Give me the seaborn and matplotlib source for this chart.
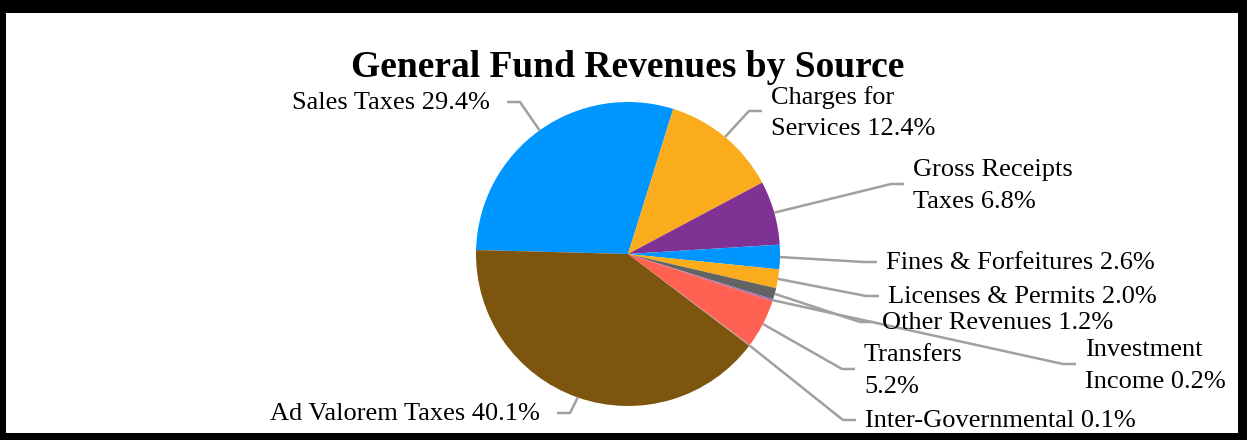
import matplotlib
matplotlib.use("Agg")
import matplotlib.pyplot as plt
from matplotlib.patches import Rectangle
import numpy as np
import seaborn as sns

# Revenue sources, in clockwise order starting from the left of the pie
categories = [
    "Sales Taxes", "Charges for Services", "Gross Receipts Taxes",
    "Fines & Forfeitures", "Licenses & Permits", "Other Revenues",
    "Investment Income", "Transfers", "Inter-Governmental", "Ad Valorem Taxes",
]
shares = [29.4, 12.4, 6.8, 2.6, 2.0, 1.2, 0.2, 5.2, 0.1, 40.1]
# Label wording with the line breaks used on the chart
label_names = [
    "Sales Taxes", "Charges for\nServices", "Gross Receipts\nTaxes",
    "Fines & Forfeitures", "Licenses & Permits", "Other Revenues",
    "Investment\nIncome", "Transfers\n", "Inter-Governmental", "Ad Valorem Taxes",
]
colors = ["#0096FF", "#FAAC1C", "#7F3294", "#0096FF", "#FAAC1C",
          "#636363", "#9B6FB0", "#FF6152", "#A0A0A0", "#7D550E"]

# Label placement in pixel units (x, y from top), side of the leader line
label_pos = [
    (490, 103, "right"),
    (771, 113, "left"),
    (913, 186, "left"),
    (886, 263, "left"),
    (888, 297, "left"),
    (882, 323, "left"),
    (1085, 366, "left"),
    (864, 371, "left"),
    (865, 421, "left"),
    (540, 414, "right"),
]

sns.set_theme(style="white")
plt.rcParams["font.family"] = ["Liberation Serif", "DejaVu Serif"]

W, H = 1247, 440
fig = plt.figure(figsize=(W / 100, H / 100), dpi=100, facecolor="black")
# white chart area inside the black frame
fig.add_artist(Rectangle((6 / W, 7 / H), (1238 - 6) / W, (433 - 13) / H,
                         transform=fig.transFigure, facecolor="white",
                         edgecolor="none", zorder=0))
ax = fig.add_axes([0, 0, 1, 1])
ax.patch.set_alpha(0)

cx, cy, r = 628, H - 254, 152
wedges, _ = ax.pie(shares, colors=colors, startangle=178.5, counterclock=False,
                   center=(cx, cy), radius=r,
                   wedgeprops=dict(linewidth=0))

ax.set_xlim(0, W)
ax.set_ylim(0, H)
ax.set_aspect("equal")
ax.set_axis_off()

line_color = "#A0A0A0"
for w, name, pct, (tx, ty, side) in zip(wedges, label_names, shares, label_pos):
    mid = np.deg2rad((w.theta1 + w.theta2) / 2)
    ax_x = cx + r * np.cos(mid)
    ax_y = cy + r * np.sin(mid)
    y = H - ty
    if side == "left":
        end = tx - 9
        elbow = end - 13
        ha = "left"
    else:
        end = tx + 17
        elbow = end + 13
        ha = "right"
    ly = y + 2 if "\n" in name else y + 1
    ax.plot([ax_x, elbow, end], [ax_y, ly, ly], color=line_color, lw=1.8,
            solid_capstyle="butt", zorder=1)
    if name.endswith("\n"):
        text = name + f"{pct:.1f}%"
    elif "\n" in name:
        text = name + f" {pct:.1f}%"
    else:
        text = f"{name} {pct:.1f}%"
    ax.text(tx, y, text, ha=ha, va="center", fontsize=19, color="black",
            linespacing=1.55, zorder=3)

ax.text(628, H - 67, "General Fund Revenues by Source", ha="center",
        va="center", fontsize=27, fontweight="bold", color="black")

fig.savefig("out.png", dpi=100, facecolor=fig.get_facecolor())
